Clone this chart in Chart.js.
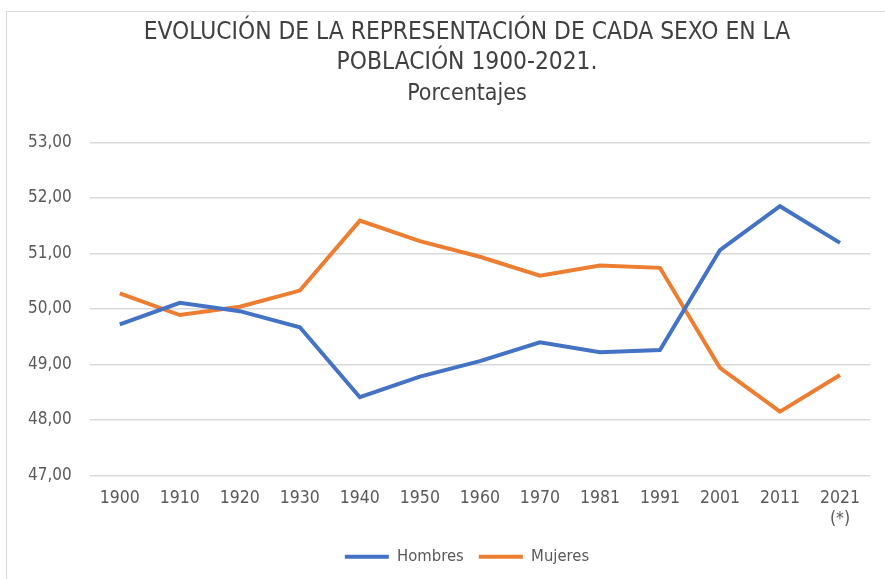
<!DOCTYPE html>
<html lang="es">
<head>
<meta charset="UTF-8">
<script src="https://cdn.jsdelivr.net/npm/chart.js"></script>
<title>Evolución por sexo</title>
<style>
  body { margin: 0; width: 885px; height: 579px; overflow: hidden; background: #fff; }
  .marco { position: absolute; left: 6px; top: 11px; width: 920px; height: 590px; border: 1px solid #d9d9d9; }
  #myChart { position: absolute; left: 0; top: 0; }
</style>
</head>
<body>
<div class="marco">
  <canvas id="myChart" width="920" height="565"></canvas>
</div>
<script>
const anios = ['1900', '1910', '1920', '1930', '1940', '1950', '1960', '1970', '1981', '1991', '2001', '2011', ['2021', '(*)']];
const hombres = [49.72, 50.11, 49.96, 49.67, 48.41, 48.78, 49.06, 49.40, 49.22, 49.26, 51.06, 51.85, 51.19];
const mujeres = [50.28, 49.89, 50.04, 50.33, 51.59, 51.22, 50.94, 50.60, 50.78, 50.74, 48.94, 48.15, 48.81];
const ticksY = [47, 48, 49, 50, 51, 52, 53];

const fuente = "'Liberation Sans Narrow', 'DejaVu Sans Condensed', sans-serif";
const gris = '#595959';

const data = {
    labels: anios,
    datasets: [{
        label: 'Hombres',
        data: hombres,
        borderColor: '#4472C4',
        backgroundColor: '#4472C4',
        borderWidth: 4,
        pointRadius: 0,
        tension: 0
    }, {
        label: 'Mujeres',
        data: mujeres,
        borderColor: '#ED7D31',
        backgroundColor: '#ED7D31',
        borderWidth: 4,
        pointRadius: 0,
        tension: 0
    }]
};

const config = {
    type: 'line',
    data: data,
    options: {
        responsive: false,
        animation: false,
        layout: { padding: { left: 3, right: 3, top: 0, bottom: 2 } },
        plugins: {
            title: {
                display: true,
                text: ['EVOLUCIÓN DE LA REPRESENTACIÓN DE CADA SEXO EN LA', 'POBLACIÓN 1900-2021.'],
                color: '#404040',
                font: { family: fuente, size: 24.3, weight: 'normal', lineHeight: 1.25 },
                padding: { top: 5, bottom: 2 }
            },
            subtitle: {
                display: true,
                text: 'Porcentajes',
                color: '#404040',
                font: { family: fuente, size: 23, weight: 'normal' },
                padding: { bottom: 35 }
            },
            legend: {
                position: 'bottom',
                labels: {
                    color: gris,
                    font: { family: fuente, size: 16.5 },
                    boxWidth: 44,
                    boxHeight: 4,
                    padding: 15,
                    generateLabels: function (chart) {
                        const items = Chart.defaults.plugins.legend.labels.generateLabels(chart);
                        items.forEach(function (it) { it.lineWidth = 0; });
                        return items;
                    }
                }
            },
            tooltip: { enabled: false }
        },
        scales: {
            x: {
                offset: true,
                grid: { display: false },
                border: { display: false },
                ticks: { color: gris, font: { family: fuente, size: 17.5 }, maxRotation: 0, autoSkip: false, padding: 4 }
            },
            y: {
                min: 47,
                max: 53,
                afterBuildTicks: function (axis) {
                    axis.ticks = ticksY.map(function (v) { return { value: v }; });
                },
                grid: { color: '#d9d9d9', lineWidth: 1.5, drawTicks: false },
                border: { display: false },
                ticks: {
                    color: gris,
                    font: { family: fuente, size: 17 },
                    padding: 18,
                    callback: function (v) { return v.toFixed(2).replace('.', ','); }
                }
            },
            // eje vacío a la derecha: deja el hueco del marco de Excel
            margen: {
                position: 'right',
                grid: { display: false },
                border: { display: false },
                ticks: { display: false },
                afterFit: function (axis) { axis.width = 54; }
            }
        }
    }
};

const myChart = new Chart(document.getElementById('myChart'), config);
</script>
</body>
</html>
